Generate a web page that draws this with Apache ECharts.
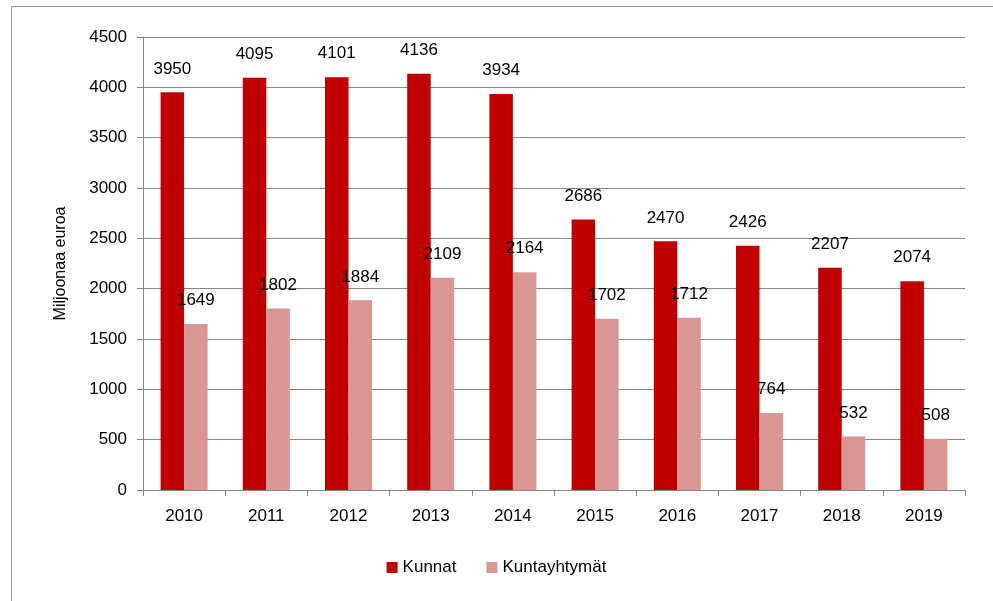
<!DOCTYPE html>
<html><head><meta charset="utf-8">
<script src="https://cdn.jsdelivr.net/npm/echarts@6/dist/echarts.min.js"></script>
<style>html,body{margin:0;padding:0;background:#fff}#c{width:993px;height:601px}</style>
</head><body><div id="c"></div>
<script>
const categories = ['2010','2011','2012','2013','2014','2015','2016','2017','2018','2019'];
const kunnat = [3950,4095,4101,4136,3934,2686,2470,2426,2207,2074];
const kuntayhtymat = [1649,1802,1884,2109,2164,1702,1712,764,532,508];
const seriesNames = ['Kunnat','Kuntayhtymät'];
const yAxisName = 'Miljoonaa euroa';

const font = 'Liberation Sans';
const chart = echarts.init(document.getElementById('c'), null, {renderer:'canvas'});
const labelStyle = {show:true, position:'top', distance:15, color:'#000', fontFamily:font, fontSize:17};
chart.setOption({
  animation:false,
  graphic:[{type:'rect', shape:{x:11.5,y:6.5,width:1000,height:700}, style:{fill:'none', stroke:'#999', lineWidth:1}, silent:true, z:-1}],
  grid:{left:143, right:28, top:37, bottom:111, containLabel:false},
  legend:{data:seriesNames, bottom:20, left:'center', itemWidth:11, itemHeight:11, itemGap:30, icon:'rect',
    textStyle:{fontFamily:font, fontSize:17, color:'#000'}},
  xAxis:{type:'category', data:categories,
    axisLine:{lineStyle:{color:'#868686', width:1}},
    axisTick:{show:true, length:6, lineStyle:{color:'#868686'}},
    axisLabel:{color:'#000', fontFamily:font, fontSize:17, margin:18}},
  yAxis:{type:'value', min:0, max:4500, interval:500,
    name:yAxisName, nameLocation:'middle', nameGap:74, nameRotate:90,
    nameTextStyle:{color:'#000', fontFamily:font, fontSize:16},
    axisLine:{show:true, lineStyle:{color:'#868686'}},
    axisTick:{show:true, length:6, lineStyle:{color:'#868686'}},
    splitLine:{lineStyle:{color:'#868686', width:1}},
    axisLabel:{color:'#000', fontFamily:font, fontSize:17, margin:16, formatter:v => String(v)}},
  series:[
    {name:seriesNames[0], type:'bar', data:kunnat, itemStyle:{color:'#C00000'}, barWidth:'28.6%', barGap:'0%', label:labelStyle},
    {name:seriesNames[1], type:'bar', data:kuntayhtymat, itemStyle:{color:'#DA9694'}, barWidth:'28.6%', label:labelStyle}
  ]
});
</script></body></html>
